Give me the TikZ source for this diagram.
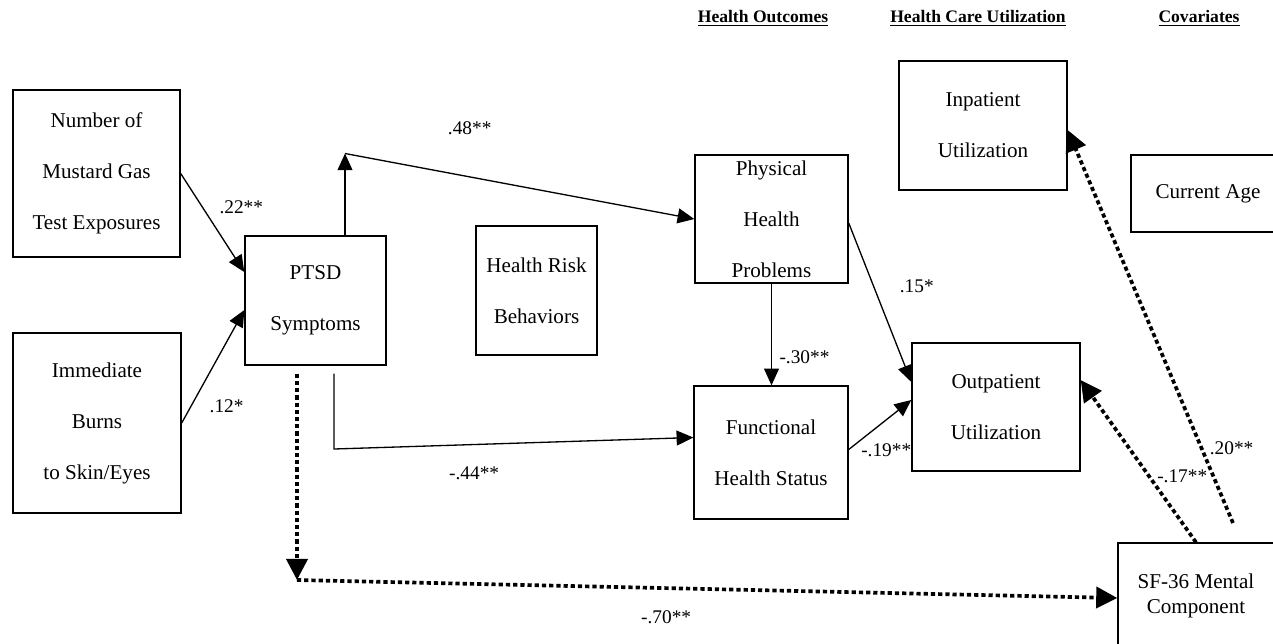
\documentclass[tikz,border=0pt]{standalone}
\usepackage{fontspec}
\setmainfont{Liberation Serif}
\usetikzlibrary{arrows.meta}

\begin{document}
\begin{tikzpicture}[
    >={Triangle[length=9.5pt,width=8.5pt]},
    box/.style={draw, line width=0.8pt, inner sep=0pt, align=center,
      font=\fontsize{12}{29}\selectfont},
    lbl/.style={font=\fontsize{11}{13}\selectfont, inner sep=0pt},
    head/.style={font=\fontsize{10}{12}\selectfont\bfseries},
    dots/.style={line width=2.1pt, dash pattern=on 2.4pt off 1.7pt,
      -{Triangle[length=12pt,width=12pt]}},
    thin/.style={line width=0.75pt}]

    \useasboundingbox (0,0) rectangle (25.46,-12.86);

    \node[head] at (15.26,-0.36) (hOut) {\underline{Health Outcomes}};
    \node[head] at (19.56,-0.36) (hCare) {\underline{Health Care Utilization}};
    \node[head] at (23.98,-0.36) (hCov) {\underline{Covariates}};

    \node[box, minimum width=3.34cm, minimum height=3.34cm] at (1.93,-3.47) (Mus) {Number of\\Mustard Gas\\Test Exposures};
    \node[box, minimum width=3.36cm, minimum height=3.60cm] at (1.94,-8.46) (Burn) {Immediate\\Burns\\to Skin/Eyes};
    \node[box, minimum width=2.82cm, minimum height=2.58cm] at (6.31,-6.01) (PTSD) {PTSD\\Symptoms};
    \node[box, minimum width=2.42cm, minimum height=2.58cm] at (10.73,-5.81) (Risk) {Health Risk\\Behaviors};
    \node[box, minimum width=3.06cm, minimum height=2.56cm] at (15.43,-4.38) (Phys) {Physical\\Health\\Problems};
    \node[box, minimum width=3.08cm, minimum height=2.66cm] at (15.42,-9.05) (Func) {Functional\\Health Status};
    \node[box, minimum width=3.36cm, minimum height=2.56cm] at (19.92,-8.14) (Out) {Outpatient\\Utilization};
    \node[box, minimum width=3.36cm, minimum height=2.58cm] at (19.66,-2.51) (In) {Inpatient\\Utilization};
    \node[box, minimum width=3.08cm, minimum height=1.54cm] at (24.16,-3.87) (Age) {Current Age};
    \node[box, minimum width=3.12cm, minimum height=2.12cm, font=\fontsize{12}{14.2}\selectfont] at (23.92,-11.92) (SF) {SF-36 Mental\\Component};

    \coordinate (pUp) at (6.90,-3.07);
    \coordinate (pDn) at (6.68,-8.98);
    \coordinate (pBot) at (5.94,-11.6);
    \coordinate (sfEnd) at (24.66,-10.46);

    \draw[->, thin] (Mus.east) -- node[lbl, pos=0.34, xshift=0.78cm] (w22) {.22**} ([yshift=0.57cm]PTSD.west);
    \draw[->, thin] (Burn.east) -- node[lbl, pos=0.15, xshift=0.71cm] (w12) {.12*} ([yshift=-0.19cm]PTSD.west);
    \draw[->, thin] ([xshift=0.59cm]PTSD.north) -- (pUp);
    \draw[->, thin] (pUp) -- node[lbl, pos=0.357, yshift=0.97cm] (w48) {.48**} (Phys.west);
    \draw[->, thin] ([shift={(0.37,-0.16)}]PTSD.south) -- (pDn) -- node[lbl, pos=0.39, yshift=-0.57cm] (w44) {-.44**} ([yshift=0.3cm]Func.west);
    \draw[->, thin] (Phys.south) -- node[lbl, pos=0.72, xshift=0.66cm] (w30) {-.30**} (Phys.south |- Func.north);
    \draw[->, thin] ([yshift=-0.08cm]Phys.east) -- node[lbl, pos=0.4, xshift=0.86cm] (w15) {.15*} ([yshift=0.5cm]Out.west);
    \draw[->, thin] ([yshift=0.06cm]Func.east) -- node[lbl, pos=0.6, yshift=-0.6cm] (w19) {-.19**} ([yshift=0.14cm]Out.west);

    \draw[dots] ([shift={(-0.37,-0.16)}]PTSD.south) -- (pBot);
    \draw[dots] (pBot) -- node[lbl, pos=0.45, yshift=-0.59cm] (w70) {-.70**} ([yshift=-0.04cm]SF.west);
    \draw[dots] (SF.north) -- node[lbl, pos=0.41, xshift=0.67cm] (w17) {-.17**} ([yshift=0.54cm]Out.east);
    \draw[dots] (sfEnd) -- node[lbl, pos=0.19, xshift=0.6cm] (w20) {.20**} ([yshift=-0.09cm]In.east);
        \end{tikzpicture}
\end{document}
